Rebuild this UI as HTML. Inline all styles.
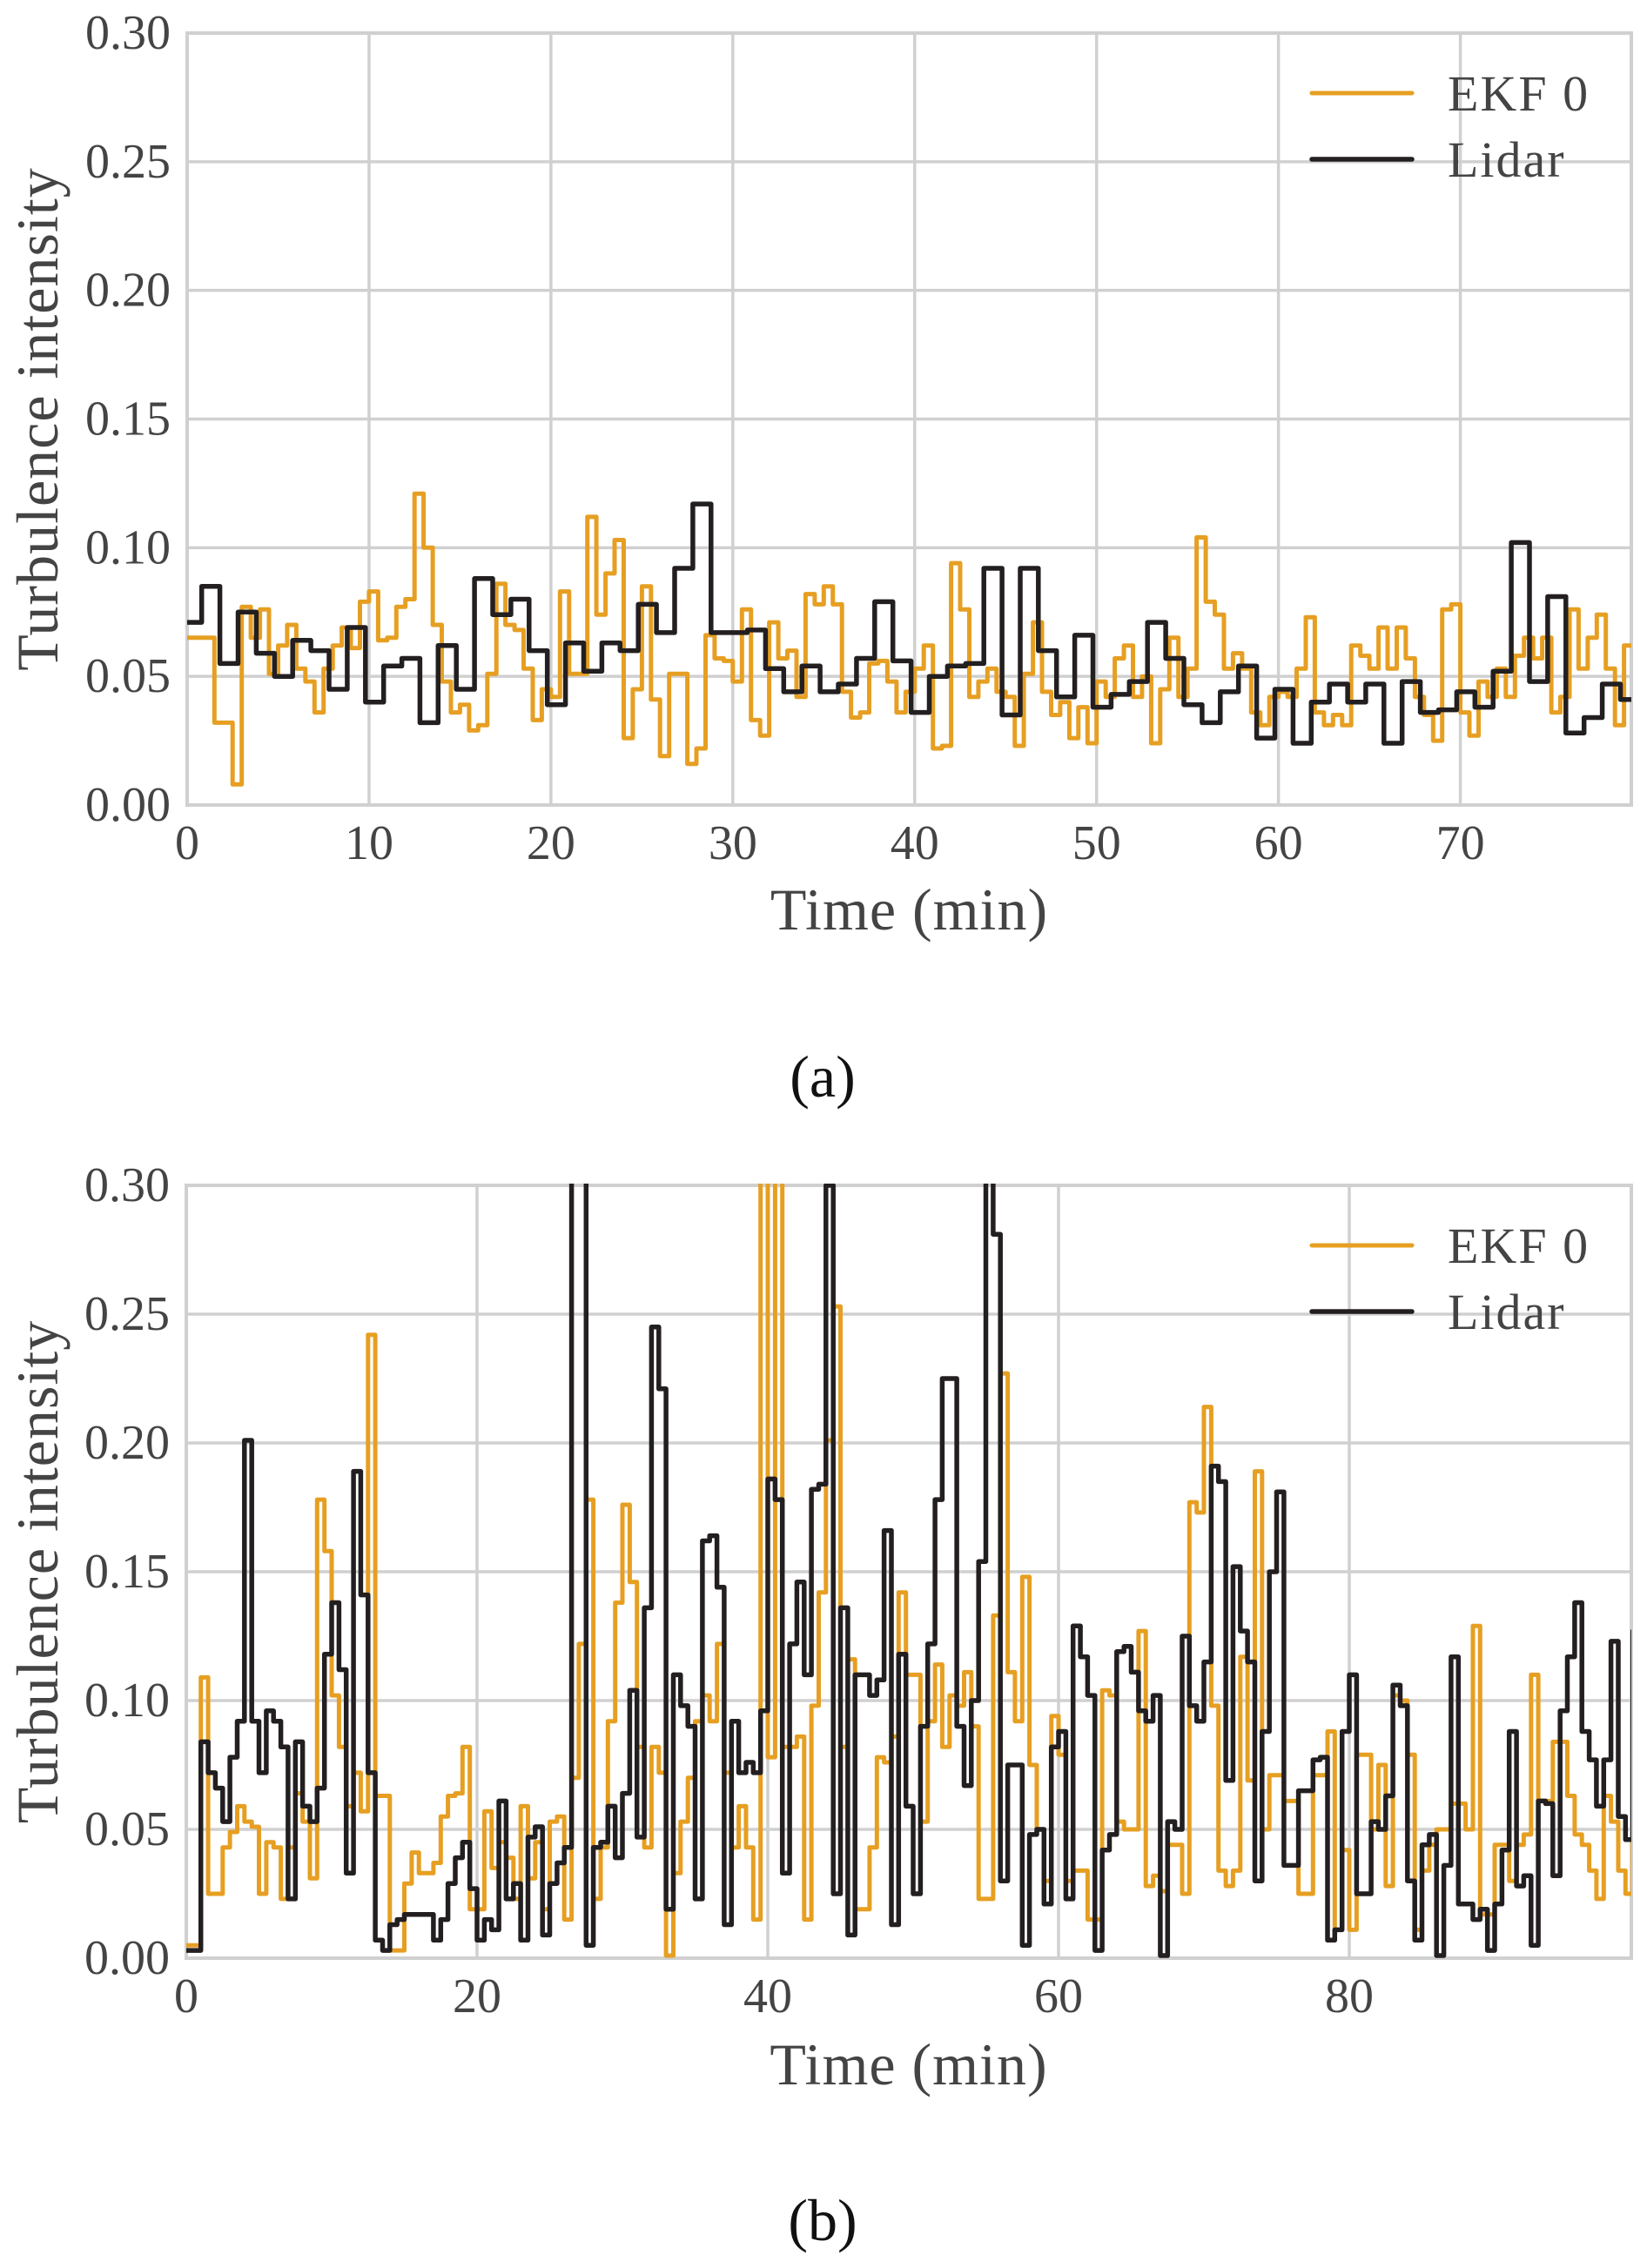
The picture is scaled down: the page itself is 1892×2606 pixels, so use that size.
<!DOCTYPE html>
<html><head><meta charset="utf-8"><style>
html,body{margin:0;padding:0;background:#fff;}
svg{display:block;}
text{font-family:"Liberation Serif",serif;fill:#444;}
</style></head><body>
<svg id="chart" width="1892" height="2606" viewBox="0 0 1892 2606" xmlns="http://www.w3.org/2000/svg"></svg>
<script>
// Panel (a) data
const ekfA_t0 = 0, ekfA_dt = 0.5;
const ekfAValues = [0.065,0.065,0.065,0.032,0.032,0.008,0.077,0.065,0.076,0.051,
0.062,0.070,0.053,0.048,0.036,0.053,0.062,0.069,0.061,0.079,
0.083,0.064,0.065,0.077,0.080,0.121,0.100,0.070,0.048,0.036,
0.039,0.029,0.031,0.051,0.086,0.070,0.068,0.053,0.033,0.045,
0.042,0.083,0.051,0.051,0.112,0.074,0.090,0.103,0.026,0.045,
0.085,0.041,0.019,0.051,0.051,0.016,0.022,0.066,0.057,0.056,
0.048,0.076,0.033,0.027,0.071,0.057,
0.060,0.042,0.082,0.078,0.085,0.078,0.044,0.034,0.036,0.055,
0.056,0.048,0.036,0.044,0.053,0.062,0.022,0.023,0.094,0.076,
0.042,0.048,0.053,0.044,0.042,0.023,0.051,0.071,0.044,0.035,
0.040,0.026,0.038,0.024,0.048,0.042,0.057,0.062,0.042,0.050,
0.024,0.045,0.065,0.042,0.053,0.104,0.079,0.074,0.053,0.059,
0.053,0.036,0.031,0.042,0.044,0.042,0.053,0.073,0.036,0.031,
0.035,0.031,0.062,0.058,0.053,0.069,0.053,0.069,0.057,0.042,
0.035,0.025,0.076,0.078,0.036,0.027,0.048,0.042,0.053,0.042,
0.058,0.065,0.057,0.065,0.036,0.042,0.076,0.053,0.065,0.074,
0.053,0.031,0.062];
const lidarA_first = 0.8, lidarA_dt = 1.0;
const lidarAValues = [0.071,0.085,0.055,0.075,0.059,0.050,0.064,0.060,0.045,0.069,0.040,0.054,0.057,0.032,0.062,0.045,0.088,0.074,0.080,0.060,0.039,0.063,0.052,0.063,0.060,0.078,0.067,0.092,0.117,
0.067,0.067,0.068,0.053,0.044,0.054,0.044,0.047,0.057,0.079,0.056,0.036,0.050,0.054,0.055,0.092,0.035,0.092,0.060,0.042,0.066,0.038,0.043,0.048,0.071,0.057,0.039,0.032,0.044,0.054,0.026,0.045,0.024,0.040,0.047,0.040,0.047,0.024,0.048,0.036,0.037,0.044,0.038,0.052,0.102,0.048,0.081,0.028,0.034,0.047,0.041];
const xTicksA = [0,10,20,30,40,50,60,70];
// Panel (b) data
const ekfB_dt = 0.5;
const ekfBValues = [0.005,0.005,0.109,0.025,0.025,0.043,0.049,0.059,0.053,0.051,
0.025,0.045,0.043,0.023,0.043,0.064,0.053,0.031,0.178,0.158,
0.102,0.082,0.059,0.072,0.057,0.242,0.063,0.063,0.003,0.003,
0.029,0.041,0.033,0.033,0.037,0.055,0.063,0.064,0.082,0.019,
0.019,0.057,0.035,0.045,0.039,0.023,0.059,0.031,0.045,0.019,
0.053,0.055,0.015,0.070,0.122,0.178,0.023,0.043,0.092,0.138,
0.176,0.146,0.082,0.043,0.082,0.072,0.001,0.033,0.053,0.070,
0.092,0.102,0.092,0.122,0.072,0.043,0.059,0.043,0.015,0.32,
0.078,0.32,0.082,0.082,0.086,0.015,0.098,0.142,0.201,0.253,
0.082,0.116,0.019,0.019,0.043,0.078,0.076,0.086,0.142,0.110,
0.110,0.053,0.092,0.114,0.082,0.102,
0.098,0.111,0.090,0.023,0.023,0.133,0.227,0.111,0.092,0.148,
0.075,0.050,0.030,0.094,0.079,0.030,0.034,0.034,0.015,0.015,
0.104,0.102,0.053,0.050,0.050,0.127,0.028,0.032,0.026,0.044,
0.044,0.025,0.177,0.173,0.214,0.098,0.034,0.028,0.034,0.117,
0.069,0.189,0.050,0.071,0.071,0.061,
0.061,0.025,0.025,0.071,0.071,0.088,0.011,0.042,0.011,0.079,
0.079,0.050,0.075,0.028,0.102,0.100,0.079,0.011,0.034,0.044,
0.050,0.050,0.060,0.060,0.050,0.129,0.017,0.017,0.044,0.044,
0.030,0.044,0.048,0.110,0.061,0.061,0.084,0.084,0.063,0.048,
0.044,0.034,0.023,0.063,0.053,0.034,0.025,0.046];
const lidarB_dt = 0.5;
const lidarBValues = [0.003,0.003,0.084,0.072,0.066,0.053,0.078,0.092,0.201,0.092,
0.072,0.096,0.092,0.082,0.023,0.084,0.059,0.053,0.066,0.118,
0.138,0.112,0.033,0.189,0.141,0.072,0.007,0.003,0.013,0.015,
0.017,0.017,0.017,0.017,0.007,0.015,0.029,0.039,0.045,0.027,
0.007,0.015,0.011,0.061,0.023,0.029,0.007,0.047,0.051,0.009,
0.029,0.037,0.043,0.32,0.32,0.005,0.043,0.045,0.059,0.039,
0.064,0.104,0.047,0.136,0.245,0.221,0.019,0.110,0.098,0.090,
0.023,0.162,0.164,0.144,0.013,0.092,0.072,0.076,0.072,0.096,
0.186,0.178,0.033,0.122,0.146,0.110,0.182,0.184,0.30,0.025,
0.136,0.009,0.110,0.110,0.102,0.108,0.166,0.013,0.118,0.059,
0.025,0.090,0.122,0.178,0.225,0.225,
0.090,0.067,0.100,0.154,0.32,0.281,0.030,0.075,0.075,0.005,
0.048,0.050,0.021,0.082,0.088,0.023,0.129,0.117,0.102,0.003,
0.042,0.048,0.119,0.121,0.111,0.096,0.092,0.102,0.001,0.053,
0.050,0.125,0.098,0.092,0.115,0.191,0.185,0.069,0.152,0.127,
0.115,0.030,0.088,0.150,0.181,0.036,
0.036,0.065,0.065,0.077,0.078,0.007,0.011,0.088,0.11,0.025,
0.025,0.053,0.050,0.063,0.106,0.098,0.030,0.007,0.044,0.048,
0.001,0.036,0.117,0.021,0.021,0.015,0.019,0.003,0.021,0.042,
0.088,0.028,0.032,0.005,0.061,0.060,0.032,0.096,0.117,0.138,
0.088,0.077,0.059,0.077,0.123,0.055,0.046,0.127];
const xTicksB = [0,20,40,60,80];
const yTicks = [0.00,0.05,0.10,0.15,0.20,0.25,0.30];
const legendLabels = ["EKF 0","Lidar"];

const NS = "http://www.w3.org/2000/svg";
const svg = document.getElementById('chart');
function mk(tag, attrs, parent){
  const e = document.createElementNS(NS, tag);
  for (const k in attrs) e.setAttribute(k, attrs[k]);
  (parent||svg).appendChild(e);
  return e;
}
function stepPath(ts, vs, sx, sy){
  let d = '';
  for (let i=0;i<vs.length;i++){
    const x = sx(ts[i]), y = sy(vs[i]);
    if (i===0) d += 'M'+x.toFixed(1)+','+y.toFixed(1);
    else d += 'H'+x.toFixed(1)+'V'+y.toFixed(1);
  }
  d += 'H'+sx(ts[ts.length-1] + (ts.length>1 ? ts[ts.length-1]-ts[ts.length-2] : 1)).toFixed(1);
  return d;
}
function panel(id, L, R, T, B, xmax, xTicks, ekfT, ekfV, lidT, lidV, capLabel, capY, xlabY, legY){
  const g = mk('g', {});
  
  
  const sx = t => L + (R-L)*t/xmax;
  const sy = v => B - (B-T)*v/0.30;
  yTicks.forEach(v=>{
    const l = mk('line',{x1:L,x2:R,y1:sy(v),y2:sy(v),stroke:'#d0d0d0','stroke-width':3.5},g);
    
    
    const t = mk('text',{x:L-19,y:sy(v)+18,'text-anchor':'end','font-size':56},g);
    t.textContent = v.toFixed(2);
    
    
  });
  xTicks.forEach(v=>{
    const l = mk('line',{x1:sx(v),x2:sx(v),y1:T,y2:B,stroke:'#d0d0d0','stroke-width':3.5},g);
    
    
    const t = mk('text',{x:sx(v),y:B+62,'text-anchor':'middle','font-size':56},g);
    t.textContent = String(v);
    
    
  });
  const fr = mk('rect',{x:L,y:T,width:R-L,height:B-T,fill:'none',stroke:'#d0d0d0','stroke-width':4},g);
  
  
  const cp = mk('clipPath',{id:'clip'+id},g);
  mk('rect',{x:L,y:T-2,width:R-L,height:B-T+4},cp);
  const pe = mk('path',{d:stepPath(ekfT,ekfV,sx,sy),fill:'none',stroke:'#E69F22','stroke-width':5,'stroke-linejoin':'round','clip-path':'url(#clip'+id+')'},g);
  
  
  const pl = mk('path',{d:stepPath(lidT,lidV,sx,sy),fill:'none',stroke:'#231F20','stroke-width':5.5,'stroke-linejoin':'round','clip-path':'url(#clip'+id+')'},g);
  
  
  const lg = mk('g',{},g);
  
  
  const cols = ['#E69F22','#231F20'];
  legendLabels.forEach((lab,i)=>{
    const y = legY + i*76;
    const ln = mk('line',{x1:1507,x2:1622,y1:y,y2:y,stroke:cols[i],'stroke-width':i?5.5:5,'stroke-linecap':'round'},lg);
    
    
    const tx = mk('text',{x:1663,y:y+20,'font-size':58,'letter-spacing':2},lg);
    tx.textContent = lab;
    
    
  });
  const yl = mk('text',{x:0,y:0,'text-anchor':'middle','font-size':68,'letter-spacing':1,transform:'translate(66,'+((T+B)/2)+') rotate(-90)'},g);
  yl.textContent = 'Turbulence intensity';
  
  
  const xl = mk('text',{x:(L+R)/2,y:xlabY,'text-anchor':'middle','font-size':68,'letter-spacing':1},g);
  xl.textContent = 'Time (min)';
  
  
  const cap = mk('text',{x:945,y:capY,'text-anchor':'middle','font-size':68,style:'fill:#111'},g);
  cap.textContent = capLabel;
  
  
}
const ekfAT = ekfAValues.map((v,i)=> ekfA_t0 + i*ekfA_dt);
const lidAT = lidarAValues.map((v,i)=> i===0 ? 0 : lidarA_first + (i-1)*lidarA_dt);
panel('a', 215, 1874, 38, 925, 79.4, xTicksA, ekfAT, ekfAValues, lidAT, lidarAValues, '(a)', 1260, 1068, 107);
const ekfBT = ekfBValues.map((v,i)=> i*ekfB_dt);
const lidBT = lidarBValues.map((v,i)=> i*lidarB_dt);
panel('b', 214, 1874, 1362, 2250, 99.4, xTicksB, ekfBT, ekfBValues, lidBT, lidarBValues, '(b)', 2574, 2395, 1431);
</script>
</body></html>
